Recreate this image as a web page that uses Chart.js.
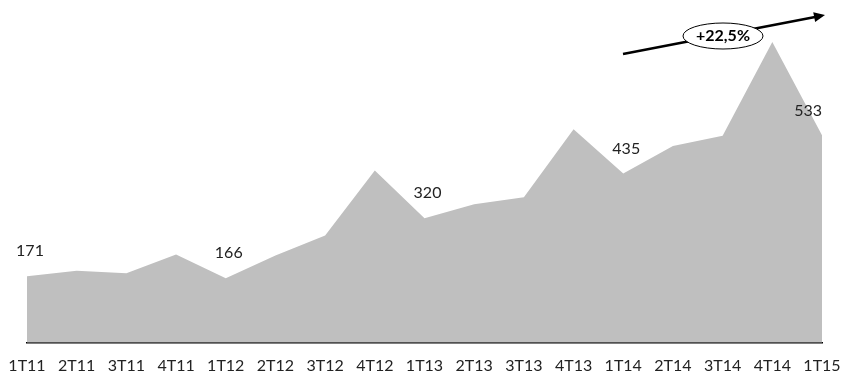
<!DOCTYPE html>
<html>
<head>
<meta charset="utf-8">
<script src="https://cdn.jsdelivr.net/npm/chart.js@4.4.1/dist/chart.umd.min.js"></script>
<style>
  html, body { margin: 0; padding: 0; background: #fff; overflow: hidden; }
  #caja { width: 848px; height: 378px; position: relative; }
</style>
</head>
<body>
<div id="caja"><canvas id="grafico"></canvas></div>
<script>
// Datos trimestrales
const trimestres = ['1T11', '2T11', '3T11', '4T11', '1T12', '2T12', '3T12', '4T12', '1T13',
                    '2T13', '3T13', '4T13', '1T14', '2T14', '3T14', '4T14', '1T15'];
const valores = [171, 185, 179, 227, 166, 224, 276, 443, 320, 356, 374, 549, 435, 506, 532, 773, 533];
// Trimestres que llevan etiqueta de valor
const etiquetados = [0, 4, 8, 12, 16];
const variacion = '+22,5%';

const fuente = "Lato, 'Open Sans', sans-serif";

// Etiquetas de valor encima del área
const etiquetasValor = {
    id: 'etiquetasValor',
    afterDatasetsDraw: function(chart) {
        const ctx = chart.ctx;
        const meta = chart.getDatasetMeta(0);
        ctx.save();
        ctx.font = '16px ' + fuente;
        ctx.fillStyle = '#222';
        ctx.textAlign = 'center';
        ctx.textBaseline = 'middle';
        etiquetados.forEach(i => {
            const p = meta.data[i];
            let x = p.x + 3;
            const w = ctx.measureText(String(valores[i])).width;
            if (x + w / 2 > chart.chartArea.right) x = chart.chartArea.right - w / 2;
            ctx.fillText(String(valores[i]), x, p.y - 25);
        });
        ctx.restore();
    }
};

// Flecha de crecimiento con la elipse
const flecha = {
    id: 'flecha',
    afterDraw: function(chart) {
        const ctx = chart.ctx;
        const x1 = 623, y1 = 54, x2 = 825, y2 = 15;
        ctx.save();
        ctx.strokeStyle = '#000';
        ctx.lineWidth = 2.5;
        ctx.beginPath();
        ctx.moveTo(x1, y1);
        ctx.lineTo(x2 - 6, y2 + 1.2);
        ctx.stroke();
        // punta
        const ang = Math.atan2(y2 - y1, x2 - x1);
        ctx.fillStyle = '#000';
        ctx.beginPath();
        ctx.moveTo(x2, y2);
        ctx.lineTo(x2 - 11 * Math.cos(ang) + 5 * Math.sin(ang), y2 - 11 * Math.sin(ang) - 5 * Math.cos(ang));
        ctx.lineTo(x2 - 11 * Math.cos(ang) - 5 * Math.sin(ang), y2 - 11 * Math.sin(ang) + 5 * Math.cos(ang));
        ctx.closePath();
        ctx.fill();
        // elipse
        ctx.beginPath();
        ctx.ellipse(723, 36, 40, 13, 0, 0, Math.PI * 2);
        ctx.fillStyle = '#fff';
        ctx.fill();
        ctx.lineWidth = 1;
        ctx.stroke();
        ctx.fillStyle = '#000';
        ctx.font = 'bold 16px ' + fuente;
        ctx.textAlign = 'center';
        ctx.textBaseline = 'middle';
        ctx.fillText(variacion, 723, 36);
        ctx.restore();
    }
};

const ctx = document.getElementById('grafico').getContext('2d');
new Chart(ctx, {
    type: 'line',
    data: {
        labels: trimestres,
        datasets: [{
            data: valores,
            fill: 'origin',
            backgroundColor: '#bfbfbf',
            borderWidth: 0,
            pointRadius: 0,
            tension: 0
        }]
    },
    options: {
        responsive: true,
        maintainAspectRatio: false,
        animation: false,
        layout: { padding: { left: 27, right: 26, top: 12, bottom: -10 } },
        plugins: {
            legend: { display: false },
            tooltip: { enabled: false }
        },
        scales: {
            x: {
                offset: false,
                afterFit: function(escala) {
                    // los márgenes los fija el layout, no las etiquetas
                    escala.paddingLeft = 0;
                    escala.paddingRight = 0;
                },
                grid: { display: false, drawTicks: false },
                border: { display: true, color: '#000', width: 1.5 },
                ticks: {
                    color: '#222',
                    font: { family: fuente, size: 16 },
                    padding: 13,
                    maxRotation: 0,
                    autoSkip: false
                }
            },
            y: {
                display: false,
                min: 0,
                max: 850
            }
        }
    },
    plugins: [etiquetasValor, flecha]
});
</script>
</body>
</html>
